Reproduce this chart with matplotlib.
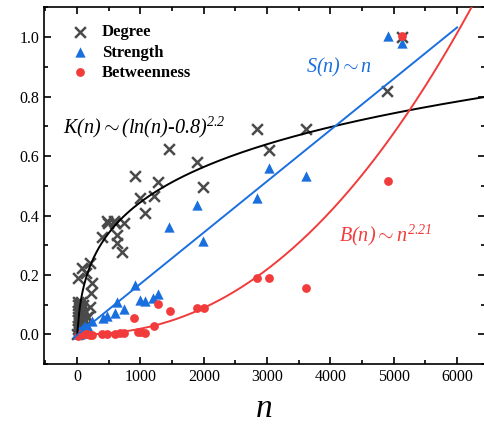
import numpy as np
import matplotlib
matplotlib.use("Agg")
import matplotlib.pyplot as plt
from matplotlib.ticker import MultipleLocator

plt.rcParams['font.family'] = ['Liberation Serif', 'DejaVu Serif']
plt.rcParams['mathtext.fontset'] = 'custom'
plt.rcParams['mathtext.rm'] = 'Liberation Serif:italic'
plt.rcParams['mathtext.it'] = 'Liberation Serif:italic'

# ---- data ----
degree_n = [5, 8, 10, 12, 15, 18, 20, 22, 25, 28, 30, 35, 40, 45, 50, 55, 60, 65, 70, 75, 80,
            90, 95, 100, 110, 120, 130, 150, 10, 74, 142, 205, 232, 221, 205, 179,
            400, 494, 600, 626, 636, 705, 741, 468, 584,
            915, 994, 1073, 1219, 1272, 1456, 1888, 1993, 2840, 3033, 3607, 4890, 5130]
degree_y = [0.00, 0.10, 0.02, 0.06, 0.08, 0.03, 0.11, 0.05, 0.09, 0.01, 0.07, 0.04, 0.10, 0.02,
            0.08, 0.05, 0.11, 0.03, 0.06, 0.09, 0.01, 0.07, 0.04, 0.10, 0.05, 0.08, 0.03, 0.06,
            0.19, 0.222, 0.205, 0.239, 0.172, 0.138, 0.093, 0.059,
            0.327, 0.376, 0.376, 0.334, 0.306, 0.278, 0.376, 0.38, 0.383,
            0.534, 0.46, 0.407, 0.467, 0.514, 0.625, 0.58, 0.495, 0.69, 0.62, 0.69, 0.82, 1.0]

strength_n = [10, 20, 30, 40, 50, 60, 70, 90, 110, 130, 150, 179, 232, 405, 468, 600, 626, 741,
              915, 994, 1073, 1203, 1272, 1456, 1898, 1993, 2844, 3028, 3607, 4910, 5130]
strength_y = [0.0, 0.005, 0.01, 0.0, 0.012, 0.008, 0.018, 0.02, 0.025, 0.03, 0.022, 0.026, 0.045,
              0.056, 0.062, 0.071, 0.108, 0.084, 0.165, 0.116, 0.112, 0.121, 0.136, 0.362, 0.435,
              0.313, 0.458, 0.559, 0.533, 1.005, 0.98]

betw_n = [10, 30, 50, 80, 120, 160, 200, 232, 389, 468, 600, 678, 741, 899, 967, 1009, 1073,
          1219, 1272, 1460, 1898, 2003, 2834, 3033, 3607, 4910, 5130]
betw_y = [-0.005, -0.003, 0.0, 0.0, 0.0, 0.0, -0.002, -0.002, 0.003, 0.003, 0.003, 0.005, 0.005,
          0.056, 0.009, 0.009, 0.005, 0.028, 0.104, 0.08, 0.088, 0.088, 0.189, 0.19, 0.157, 0.516, 1.004]

# fitted curves
k_coef, k_shift, k_exp = 0.0083, 0.8, 2.2
s_slope, s_icpt = 0.0001724, -0.002
b_coef, b_exp = 4.53e-9, 2.21

gray = '#4a4a4a'
blue = '#1a6fdf'
red = '#f23b3b'

fig = plt.figure(figsize=(4.85, 4.30), dpi=100)
ax = fig.add_axes([0.091, 0.153, 0.909, 0.830])

ax.scatter(degree_n, degree_y, marker='x', s=60, color=gray, linewidths=1.8, label='Degree', zorder=3)
ax.scatter(strength_n, strength_y, marker='^', s=55, color=blue, linewidths=0, label='Strength', zorder=4)
ax.scatter(betw_n, betw_y, marker='o', s=40, color=red, linewidths=0, label='Betweenness', zorder=5)

nk = np.linspace(3, 6500, 2000)
ax.plot(nk, k_coef * (np.log(nk) - k_shift) ** k_exp, color='black', lw=1.4, zorder=6)
ns = np.linspace(-50, 6000, 100)
ax.plot(ns, s_slope * ns + s_icpt, color=blue, lw=1.4, zorder=6)
nb = np.linspace(40, 6400, 500)
ax.plot(nb, b_coef * nb ** b_exp, color=red, lw=1.4, zorder=6)

ax.set_xlim(-520, 6440)
ax.set_ylim(-0.1, 1.1)
ax.xaxis.set_major_locator(MultipleLocator(1000))
ax.xaxis.set_minor_locator(MultipleLocator(500))
ax.yaxis.set_major_locator(MultipleLocator(0.2))
ax.yaxis.set_minor_locator(MultipleLocator(0.1))
ax.yaxis.set_major_formatter(matplotlib.ticker.FormatStrFormatter('%.1f'))
ax.tick_params(which='both', direction='in', top=True, right=True, labelsize=11.5, width=1.2)
ax.tick_params(which='major', length=5)
ax.tick_params(which='minor', length=3)
for sp in ax.spines.values():
    sp.set_linewidth(1.2)

ax.set_xlabel('n', fontsize=24, style='italic', labelpad=6)

ax.text(-220, 0.695, r'$K(n)\sim(ln(n)$-$0.8)^{2.2}$', fontsize=14.5, color='black', va='center', ha='left')
ax.text(3620, 0.896, r'$S(n)\sim n$', fontsize=14.5, color=blue, va='center', ha='left')
ax.text(4140, 0.334, r'$B(n)\sim n^{2.21}$', fontsize=14.5, color=red, va='center', ha='left')

leg = ax.legend(loc='upper left', bbox_to_anchor=(0.02, 0.98), frameon=False,
                prop={'weight': 'bold', 'size': 12}, handletextpad=0.35, labelspacing=0.25,
                scatterpoints=1, borderaxespad=0.2)

fig.savefig('out.png', dpi=100)
